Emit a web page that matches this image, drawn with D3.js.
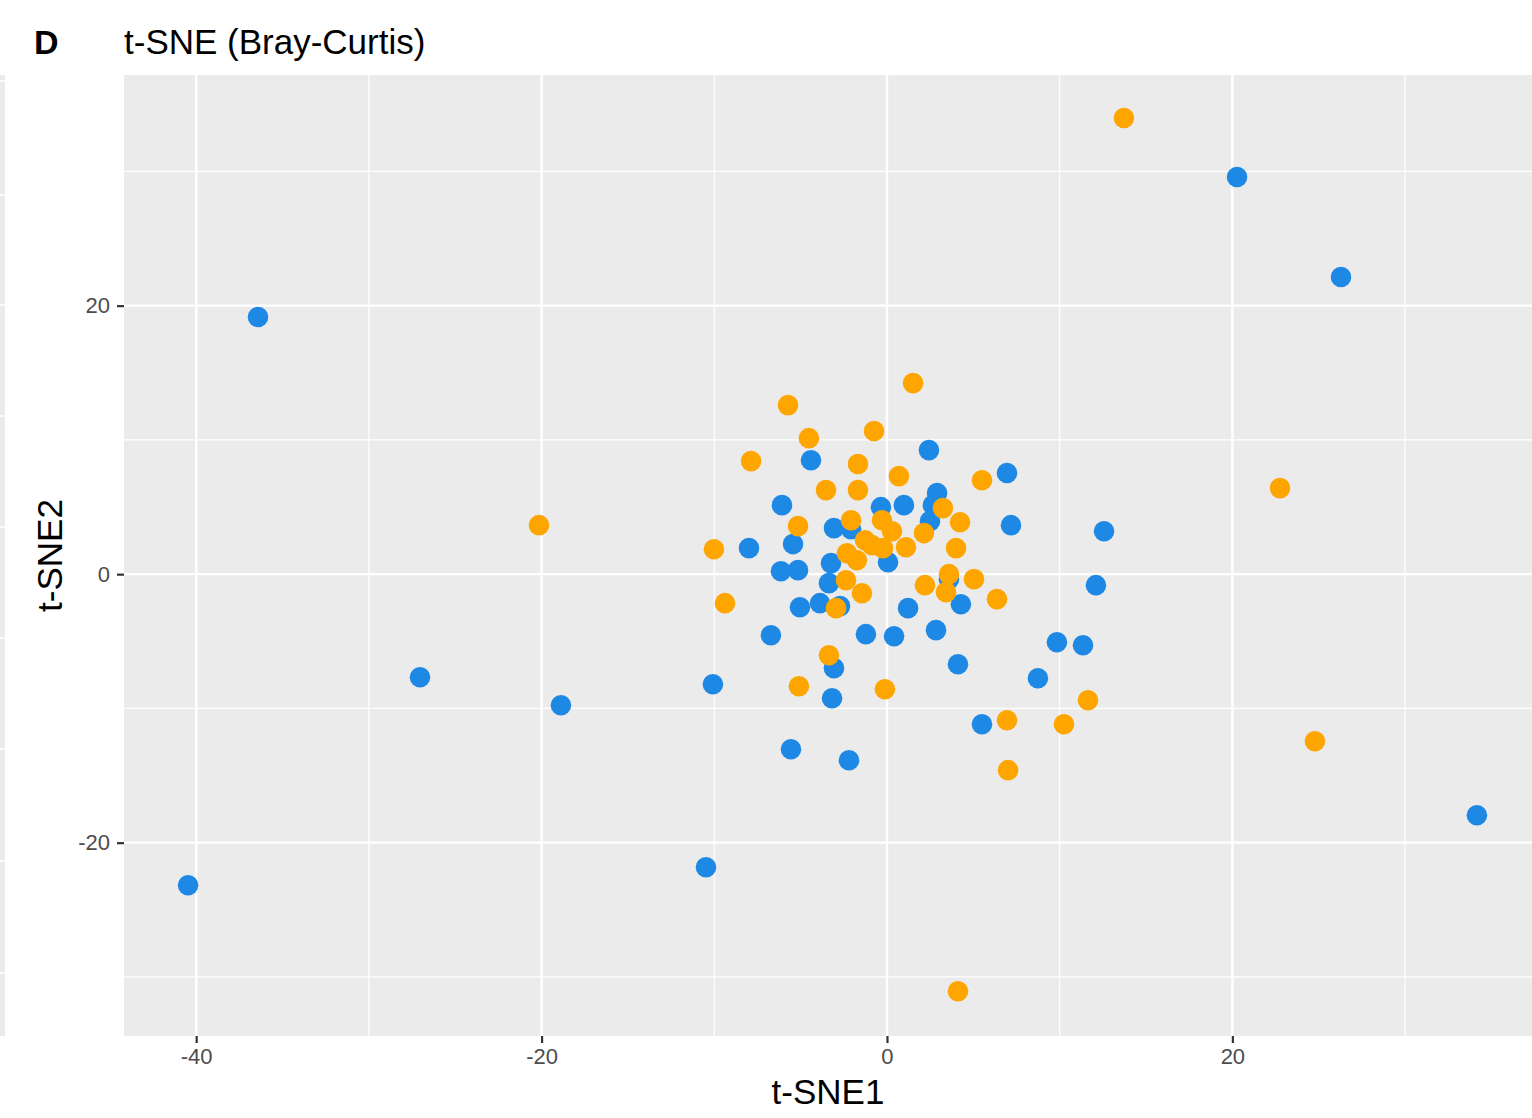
<!DOCTYPE html>
<html>
<head>
<meta charset="utf-8">
<script src="https://cdn.jsdelivr.net/npm/d3@7"></script>
<style>
  body { margin: 0; background: #fff; }
  svg { display: block; }
</style>
</head>
<body>
<div id="vizcont"></div>
<script>

// t-SNE coordinates, one pair of arrays per group
var blueX = [20.27, 26.29, -36.42, 2.43, -4.40, 6.95, 2.90, -6.08, -0.35, 0.98, 2.66, 2.49, 7.18, 12.57,
             -3.07, -2.08, -5.44, -3.24, 0.06, -6.14, -5.15, -3.36, 12.10, 3.59, -2.72, -3.88, -5.04, 1.22,
             4.28, -1.22, 0.41, -6.72, 2.84, 9.84, 11.35, -3.07, 4.11, -27.04, 8.74, -10.08, -3.18, -18.88,
             5.50, -5.56, -2.20, 34.16, -40.47, -10.48, -7.99];
var blueY = [29.58, 22.13, 19.15, 9.24, 8.49, 7.53, 6.04, 5.14, 4.99, 5.14, 5.14, 3.95, 3.65, 3.20,
             3.43, 3.35, 2.24, 0.82, 0.89, 0.22, 0.30, -0.67, -0.82, -0.37, -2.38, -2.16, -2.46, -2.53,
             -2.24, -4.47, -4.62, -4.55, -4.17, -5.07, -5.29, -7.00, -6.71, -7.68, -7.75, -8.20, -9.24, -9.76,
             -11.18, -13.04, -13.86, -17.96, -23.17, -21.83, 1.94];

var orangeX = [13.72, 1.51, -5.73, -0.75, -4.52, -7.87, -1.68, 0.69, 5.50, -3.53, -1.68, 22.76, 3.24, -20.15,
               -5.15, 4.23, -2.08, -0.29, 0.29, 2.14, -1.27, -10.02, 1.10, 4.00, -0.23, -2.32, -1.74, 3.59,
               5.04, 2.20, -2.37, 3.42, -1.45, 6.37, -9.38, -2.95, -3.36, -5.10, -0.12, 11.64, 6.95, 10.25,
               24.78, 7.01, 4.11, -0.87];
var orangeY = [33.98, 14.23, 12.59, 10.66, 10.13, 8.42, 8.20, 7.30, 7.00, 6.26, 6.26, 6.41, 4.92, 3.65,
               3.58, 3.87, 4.02, 4.02, 3.20, 3.06, 2.53, 1.86, 2.01, 1.94, 1.94, 1.56, 1.04, 0.00,
               -0.37, -0.82, -0.45, -1.34, -1.42, -1.86, -2.16, -2.53, -6.04, -8.35, -8.57, -9.39, -10.88, -11.18,
               -12.44, -14.60, -31.07, 2.16];

// axis breaks
var xMajor = [-40, -20, 0, 20];
var xMinor = [-30, -10, 10, 30];
var yMajor = [-20, 0, 20];
var yMinor = [-30, -10, 10, 30];

var titleText = "t-SNE (Bray-Curtis)";
var tagText = "D";
var xTitle = "t-SNE1";
var yTitle = "t-SNE2";

function draw_tsne() {

    var W = 1532, H = 1118;
    var panel = {left: 124, top: 75, right: 1532, bottom: 1036};

    var svg = d3.select("#vizcont")
        .append("svg")
        .attr("width", W)
        .attr("height", H)
        .style("font-family", "'Liberation Sans', Arial, sans-serif");

    // leftover edge of the neighbouring panel
    svg.append("rect")
        .attr("x", 0).attr("y", panel.top)
        .attr("width", 5).attr("height", panel.bottom - panel.top)
        .attr("fill", "#EBEBEB");
    svg.append("g")
        .selectAll("line")
        .data([81, 195, 305, 416, 527, 638, 749, 861, 973])
        .enter()
        .append("line")
        .attr("x1", 0).attr("x2", 5)
        .attr("y1", function(d) { return d; })
        .attr("y2", function(d) { return d; })
        .attr("stroke", "#fff")
        .attr("stroke-width", 1.5);

    // scales (fixed limits as in the source plot)
    var x = d3.scaleLinear()
        .domain([-44.18, 37.35])
        .range([panel.left, panel.right]);
    var y = d3.scaleLinear()
        .domain([-34.4, 37.18])
        .range([panel.bottom, panel.top]);

    // grey panel
    svg.append("rect")
        .attr("x", panel.left)
        .attr("y", panel.top)
        .attr("width", panel.right - panel.left)
        .attr("height", panel.bottom - panel.top)
        .attr("fill", "#EBEBEB");

    var grid = svg.append("g");

    // minor grid
    grid.selectAll("line.xmin")
        .data(xMinor)
        .enter().append("line")
        .attr("class", "xmin")
        .attr("x1", function(d) { return x(d); })
        .attr("x2", function(d) { return x(d); })
        .attr("y1", panel.top).attr("y2", panel.bottom)
        .attr("stroke", "#fff").attr("stroke-width", 1.2);
    grid.selectAll("line.ymin")
        .data(yMinor)
        .enter().append("line")
        .attr("class", "ymin")
        .attr("y1", function(d) { return y(d); })
        .attr("y2", function(d) { return y(d); })
        .attr("x1", panel.left).attr("x2", panel.right)
        .attr("stroke", "#fff").attr("stroke-width", 1.2);

    // major grid
    grid.selectAll("line.xmaj")
        .data(xMajor)
        .enter().append("line")
        .attr("class", "xmaj")
        .attr("x1", function(d) { return x(d); })
        .attr("x2", function(d) { return x(d); })
        .attr("y1", panel.top).attr("y2", panel.bottom)
        .attr("stroke", "#fff").attr("stroke-width", 2.4);
    grid.selectAll("line.ymaj")
        .data(yMajor)
        .enter().append("line")
        .attr("class", "ymaj")
        .attr("y1", function(d) { return y(d); })
        .attr("y2", function(d) { return y(d); })
        .attr("x1", panel.left).attr("x2", panel.right)
        .attr("stroke", "#fff").attr("stroke-width", 2.4);

    // points: blue group first, orange drawn on top
    var blue = blueX.map(function(v, i) { return {x: v, y: blueY[i], g: "b"}; });
    var orange = orangeX.map(function(v, i) { return {x: v, y: orangeY[i], g: "o"}; });
    var colour = d3.scaleOrdinal().domain(["b", "o"]).range(["#1E88E5", "#FFA500"]);

    svg.append("g")
        .selectAll("circle")
        .data(blue.concat(orange))
        .enter()
        .append("circle")
        .attr("cx", function(d) { return x(d.x); })
        .attr("cy", function(d) { return y(d.y); })
        .attr("r", 10.3)
        .attr("fill", function(d) { return colour(d.g); });

    // plain hyphen for negatives, like the R output
    var fmt = function(d) { return String(d); };

    // x axis
    var xAxis = svg.append("g")
        .attr("transform", "translate(0," + panel.bottom + ")")
        .call(d3.axisBottom(x).tickValues(xMajor).tickSize(7).tickPadding(5).tickFormat(fmt));
    xAxis.select(".domain").remove();
    xAxis.selectAll(".tick line").attr("stroke", "#333").attr("stroke-width", 2.2);
    xAxis.selectAll(".tick text")
        .attr("fill", "#4D4D4D")
        .style("font-size", "22px")
        .style("font-family", "'Liberation Sans', Arial, sans-serif");

    // y axis
    var yAxis = svg.append("g")
        .attr("transform", "translate(" + panel.left + ",0)")
        .call(d3.axisLeft(y).tickValues(yMajor).tickSize(7).tickPadding(7).tickFormat(fmt));
    yAxis.select(".domain").remove();
    yAxis.selectAll(".tick line").attr("stroke", "#333").attr("stroke-width", 2.2);
    yAxis.selectAll(".tick text")
        .attr("fill", "#4D4D4D")
        .style("font-size", "22px")
        .style("font-family", "'Liberation Sans', Arial, sans-serif");

    // axis titles
    svg.append("text")
        .attr("x", (panel.left + panel.right) / 2)
        .attr("y", 1104)
        .attr("text-anchor", "middle")
        .attr("fill", "#000")
        .style("font-size", "35px")
        .text(xTitle);
    svg.append("text")
        .attr("transform", "translate(62," + (panel.top + panel.bottom) / 2 + ") rotate(-90)")
        .attr("text-anchor", "middle")
        .attr("fill", "#000")
        .style("font-size", "35px")
        .text(yTitle);

    // tag and title
    svg.append("text")
        .attr("x", 34)
        .attr("y", 54)
        .attr("fill", "#000")
        .style("font-size", "34px")
        .style("font-weight", "bold")
        .text(tagText);
    svg.append("text")
        .attr("x", 124)
        .attr("y", 54)
        .attr("fill", "#000")
        .style("font-size", "35px")
        .text(titleText);
}

draw_tsne();
</script>
</body>
</html>
